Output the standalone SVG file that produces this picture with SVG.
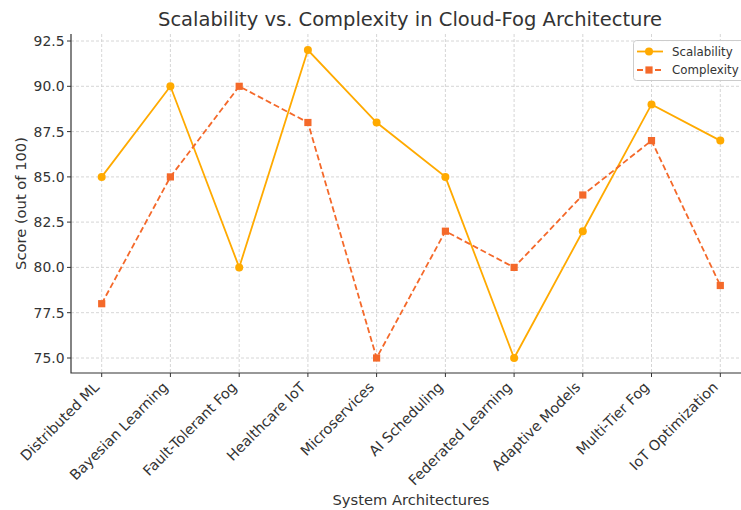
<svg xmlns="http://www.w3.org/2000/svg" width="741" height="510" viewBox="0 0 741 510">
  <style>
    text { font-family: "DejaVu Sans", "Liberation Sans", sans-serif; fill: #333333; }
    .grid { stroke: #cccccc; stroke-width: 0.8; stroke-dasharray: 3 2; fill: none; }
    .spine { stroke: #333333; stroke-width: 1.2; fill: none; }
    .tick { stroke: #333333; stroke-width: 1; }
    .ytl { font-size: 13.9px; text-anchor: end; }
    .xtl { font-size: 14.3px; text-anchor: end; }
    .lbl { font-size: 14.7px; text-anchor: middle; }
    .title { font-size: 19.5px; text-anchor: middle; }
    .scal { stroke: #FFAA00; stroke-width: 1.8; fill: none; }
    .comp { stroke: #F4692A; stroke-width: 1.8; fill: none; stroke-dasharray: 6 3; }
    .scalm { fill: #FFAA00; }
    .compm { fill: #F4692A; }
    .legtext { font-size: 11.8px; }
  </style>
  <defs>
    <circle id="dot" r="4"/>
    <rect id="sq" x="-3.6" y="-3.6" width="7.2" height="7.2"/>
  </defs>
  <rect width="741" height="510" fill="#ffffff"/>

  <text class="title" x="410" y="26">Scalability vs. Complexity in Cloud-Fog Architecture</text>

  <!-- grid -->
  <g id="grid">
    <path class="grid" d="M71 358H741M71 312.7H741M71 267.4H741M71 222.1H741M71 176.9H741M71 131.6H741M71 86.3H741M71 41H741"/>
    <path class="grid" d="M101.7 34V373M170.4 34V373M239.2 34V373M307.9 34V373M376.6 34V373M445.4 34V373M514.1 34V373M582.8 34V373M651.5 34V373M720.3 34V373"/>
  </g>

  <!-- axes -->
  <g id="axes">
    <path class="spine" d="M71 34V373H741"/>
    <path class="tick" d="M67 358H71M67 312.7H71M67 267.4H71M67 222.1H71M67 176.9H71M67 131.6H71M67 86.3H71M67 41H71"/>
    <path class="tick" d="M101.7 373V377M170.4 373V377M239.2 373V377M307.9 373V377M376.6 373V377M445.4 373V377M514.1 373V377M582.8 373V377M651.5 373V377M720.3 373V377"/>
    <text class="ytl" x="64.5" y="363">75.0</text>
    <text class="ytl" x="64.5" y="317.7">77.5</text>
    <text class="ytl" x="64.5" y="272.4">80.0</text>
    <text class="ytl" x="64.5" y="227.1">82.5</text>
    <text class="ytl" x="64.5" y="181.9">85.0</text>
    <text class="ytl" x="64.5" y="136.6">87.5</text>
    <text class="ytl" x="64.5" y="91.3">90.0</text>
    <text class="ytl" x="64.5" y="46">92.5</text>

    <text class="xtl" transform="translate(100.2 388) rotate(-45)">Distributed ML</text>
    <text class="xtl" transform="translate(168.9 388) rotate(-45)">Bayesian Learning</text>
    <text class="xtl" transform="translate(237.7 388) rotate(-45)">Fault-Tolerant Fog</text>
    <text class="xtl" transform="translate(306.4 388) rotate(-45)">Healthcare IoT</text>
    <text class="xtl" transform="translate(375.1 388) rotate(-45)">Microservices</text>
    <text class="xtl" transform="translate(443.9 388) rotate(-45)">AI Scheduling</text>
    <text class="xtl" transform="translate(512.6 388) rotate(-45)">Federated Learning</text>
    <text class="xtl" transform="translate(581.3 388) rotate(-45)">Adaptive Models</text>
    <text class="xtl" transform="translate(650 388) rotate(-45)">Multi-Tier Fog</text>
    <text class="xtl" transform="translate(718.8 388) rotate(-45)">IoT Optimization</text>

    <text class="lbl" x="411" y="505">System Architectures</text>
    <text class="lbl" transform="translate(26 203.5) rotate(-90)">Score (out of 100)</text>
  </g>

  <!-- data series -->
  <g id="connectors">
    <polyline class="scal" points="101.7,176.9 170.4,86.3 239.2,267.4 307.9,50.1 376.6,122.5 445.4,176.9 514.1,358 582.8,231.2 651.5,104.4 720.3,140.6"/>
    <polyline class="comp" points="101.7,303.7 170.4,176.9 239.2,86.3 307.9,122.5 376.6,358 445.4,231.2 514.1,267.4 582.8,195 651.5,140.6 720.3,285.5"/>
  </g>

  <g id="scalability-markers" class="scalm">
    <use href="#dot" x="101.7" y="176.9"/>
    <use href="#dot" x="170.4" y="86.3"/>
    <use href="#dot" x="239.2" y="267.4"/>
    <use href="#dot" x="307.9" y="50.1"/>
    <use href="#dot" x="376.6" y="122.5"/>
    <use href="#dot" x="445.4" y="176.9"/>
    <use href="#dot" x="514.1" y="358"/>
    <use href="#dot" x="582.8" y="231.2"/>
    <use href="#dot" x="651.5" y="104.4"/>
    <use href="#dot" x="720.3" y="140.6"/>
  </g>

  <g id="complexity-markers" class="compm">
    <use href="#sq" x="101.7" y="303.7"/>
    <use href="#sq" x="170.4" y="176.9"/>
    <use href="#sq" x="239.2" y="86.3"/>
    <use href="#sq" x="307.9" y="122.5"/>
    <use href="#sq" x="376.6" y="358"/>
    <use href="#sq" x="445.4" y="231.2"/>
    <use href="#sq" x="514.1" y="267.4"/>
    <use href="#sq" x="582.8" y="195"/>
    <use href="#sq" x="651.5" y="140.6"/>
    <use href="#sq" x="720.3" y="285.5"/>
  </g>

  <!-- legend -->
  <g id="legend">
    <rect x="633.5" y="40.5" width="120" height="40" rx="3" fill="#ffffff" fill-opacity="0.85" stroke="#cccccc" stroke-width="1"/>
    <line class="scal" x1="637" y1="51.5" x2="663" y2="51.5"/>
    <use href="#dot" x="649" y="51.5" class="scalm"/>
    <text class="legtext" x="672" y="55.5">Scalability</text>
    <line class="comp" x1="637" y1="70" x2="663" y2="70" stroke-dasharray="5 3"/>
    <use href="#sq" x="649" y="70" class="compm"/>
    <text class="legtext" x="672" y="74">Complexity</text>
  </g>
</svg>
